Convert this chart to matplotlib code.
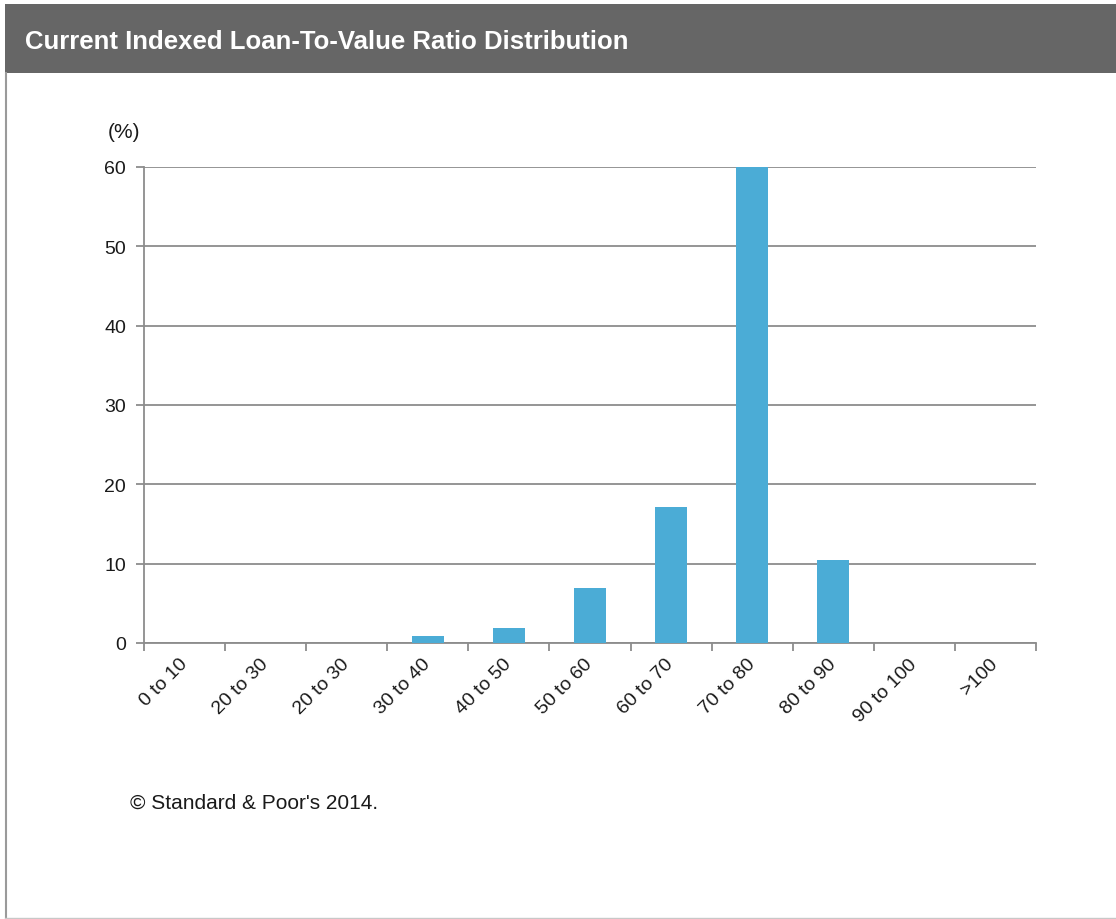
import matplotlib.pyplot as plt
import numpy as np
from matplotlib.patches import Rectangle
from matplotlib.lines import Line2D


CATEGORIES = ["0 to 10", "20 to 30", "20 to 30", "30 to 40", "40 to 50", "50 to 60",
              "60 to 70", "70 to 80", "80 to 90", "90 to 100", ">100"]
VALUES = [0, 0, 0, 0.9, 1.9, 6.9, 17.2, 60, 10.4, 0, 0]
Y_TICKS = [0, 10, 20, 30, 40, 50, 60]

TITLE = "Current Indexed Loan-To-Value Ratio Distribution"
SOURCE = "\u00a9 Standard & Poor's 2014."

BAR_COLOR = "#4bacd6"
GRID_COLOR = "#8c8c8c"
TEXT_COLOR = "#1a1a1a"

plt.rcParams["font.family"] = ["Liberation Sans", "DejaVu Sans"]

W, H = 1116, 920
fig = plt.figure(figsize=(W / 100, H / 100), dpi=100)

# header band and frame
fig.patches.append(Rectangle((5 / W, 1 - 74 / H), 1 - 5 / W, 69 / H,
                             transform=fig.transFigure, facecolor="#666666",
                             edgecolor="none", zorder=0))
fig.lines.append(Line2D([5.5 / W, 5.5 / W], [1 - 74 / H, 1 - 918 / H],
                        transform=fig.transFigure, color="#9a9a9a", lw=1.5))
fig.lines.append(Line2D([5 / W, 1], [1 - 918.5 / H, 1 - 918.5 / H],
                        transform=fig.transFigure, color="#c8c8c8", lw=1))
fig.text(25 / W, 1 - 42 / H, TITLE, color="white", fontsize=18.5, fontweight="bold",
         family=["Liberation Sans Narrow", "Liberation Sans", "DejaVu Sans"],
         ha="left", va="center")

ax = fig.add_axes([144 / W, 1 - 644 / H, (1036 - 144) / W, (644 - 168) / H])

x = np.arange(len(CATEGORIES))
ax.bar(x, VALUES, width=0.4, color=BAR_COLOR, zorder=3)

ax.set_xlim(-0.5, len(CATEGORIES) - 0.5)
ax.set_ylim(0, 60)
ax.set_yticks(Y_TICKS)
ax.yaxis.grid(True, color=GRID_COLOR, lw=1.3, zorder=0)
ax.set_axisbelow(True)

ax.set_xticks(x)
ax.set_xticklabels(CATEGORIES, rotation=45, ha="right", va="center",
                   rotation_mode="anchor", fontsize=14, color=TEXT_COLOR)
ax.tick_params(axis="x", which="major", length=0, pad=13)
ax.set_xticks(np.arange(len(CATEGORIES) + 1) - 0.5, minor=True)
ax.tick_params(axis="x", which="minor", length=6, width=1.3, color=GRID_COLOR)
ax.tick_params(axis="y", length=6, width=1.3, color=GRID_COLOR, labelsize=14,
               labelcolor=TEXT_COLOR, pad=7)

for side in ["top", "right"]:
    ax.spines[side].set_visible(False)
for side in ["left", "bottom"]:
    ax.spines[side].set_color(GRID_COLOR)
    ax.spines[side].set_linewidth(1.3)

fig.text(124 / W, 1 - 132 / H, "(%)", fontsize=15, color=TEXT_COLOR, ha="center", va="center")
fig.text(130 / W, 1 - 803 / H, SOURCE, fontsize=15, color=TEXT_COLOR, ha="left", va="center")

fig.savefig("out.png", dpi=100, facecolor="white")
